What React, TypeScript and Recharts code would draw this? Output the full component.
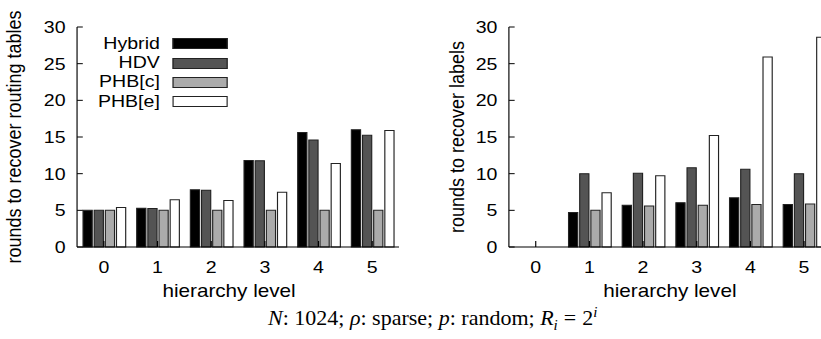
import { Bar, BarChart, Legend, XAxis, YAxis } from "recharts";

const levels = ["0", "1", "2", "3", "4", "5"];
const yTicks = [0, 5, 10, 15, 20, 25, 30];

// left panel: rounds to recover routing tables
const hybridTables = [5.0, 5.3, 7.8, 11.8, 15.6, 16.0];
const hdvTables = [5.0, 5.25, 7.75, 11.75, 14.6, 15.25];
const phbcTables = [5.0, 5.0, 5.0, 5.0, 5.0, 5.0];
const phbeTables = [5.4, 6.45, 6.35, 7.45, 11.4, 15.9];

// right panel: rounds to recover labels
const hybridLabels = [0, 4.7, 5.7, 6.05, 6.7, 5.8];
const hdvLabels = [0, 10.0, 10.05, 10.8, 10.6, 10.0];
const phbcLabels = [0, 5.0, 5.6, 5.7, 5.8, 5.85];
const phbeLabels = [0, 7.4, 9.7, 15.2, 25.9, 28.6];

const seriesNames = ["Hybrid", "HDV", "PHB[c]", "PHB[e]"];
const seriesFill = ["#000000", "#545454", "#ababab", "#ffffff"];

const SANS = '"Liberation Sans", Arial, Helvetica, sans-serif';
const SERIF = '"Liberation Serif", "Times New Roman", serif';

// the original figure is stretched sideways; panels are drawn narrow and widened
const STRETCH = 1.15;

function makeRows(a: number[], b: number[], c: number[], d: number[]) {
  return levels.map((level, i) => ({ level, s0: a[i], s1: b[i], s2: c[i], s3: d[i] }));
}

const tableRows = makeRows(hybridTables, hdvTables, phbcTables, phbeTables);
const labelRows = makeRows(hybridLabels, hdvLabels, phbcLabels, phbeLabels);

function LegendBox({ payload }: any) {
  const items = [...(payload || [])].sort(
    (a: any, b: any) => seriesNames.indexOf(a.value) - seriesNames.indexOf(b.value)
  );
  return (
    <div style={{ fontFamily: SANS, fontSize: 17, color: "#000" }}>
      {items.map((entry: any) => (
        <div key={entry.value} style={{ display: "flex", alignItems: "center", height: 19.4 }}>
          <div style={{ width: 79, textAlign: "right", lineHeight: "18px" }}>{entry.value}</div>
          <div
            style={{
              marginLeft: 11.4,
              width: 48,
              height: 11,
              boxSizing: "border-box",
              border: "1px solid #222",
              background: entry.color,
            }}
          />
        </div>
      ))}
    </div>
  );
}

function Panel({
  rows,
  width,
  yWidth,
  yLabel,
  yLabelDx,
  xLabelDx,
  showLegend,
}: {
  rows: any[];
  width: number;
  yWidth: number;
  yLabel: string;
  yLabelDx: number;
  xLabelDx: number;
  showLegend: boolean;
}) {
  const axisLine = { stroke: "#000", strokeWidth: 1 };
  return (
    <BarChart
      width={width}
      height={339}
      data={rows}
      margin={{ top: 27, right: 10, bottom: 42, left: 0 }}
      barCategoryGap={5.2}
      barGap={1.7}
    >
      <XAxis
        dataKey="level"
        height={50}
        interval={0}
        tickSize={-6}
        tickMargin={20}
        axisLine={axisLine}
        tickLine={axisLine}
        tick={{ fill: "#000", fontSize: 17 }}
        label={{
          value: "hierarchy level",
          position: "insideBottom",
          offset: 0,
          dx: xLabelDx,
          fill: "#000",
          fontSize: 18,
        }}
      />
      <XAxis
        xAxisId="top"
        orientation="top"
        dataKey="level"
        height={0}
        interval={0}
        tickSize={-6}
        tick={false}
        axisLine={axisLine}
        tickLine={axisLine}
      />
      <YAxis
        width={yWidth}
        domain={[0, 30]}
        ticks={yTicks}
        interval={0}
        tickSize={-5}
        tickMargin={15}
        axisLine={axisLine}
        tickLine={axisLine}
        tick={{ fill: "#000", fontSize: 17 }}
        label={{
          value: yLabel,
          angle: -90,
          position: "center",
          dx: yLabelDx,
          fill: "#000",
          fontSize: 18,
        }}
      />
      <YAxis
        yAxisId="r"
        orientation="right"
        width={0}
        domain={[0, 30]}
        ticks={yTicks}
        interval={0}
        tickSize={-5}
        tick={false}
        axisLine={axisLine}
        tickLine={axisLine}
      />
      {showLegend && (
        <Legend
          layout="horizontal"
          verticalAlign="middle"
          align="center"
          wrapperStyle={{ left: 60, top: 34, width: "auto", height: "auto" }}
          content={<LegendBox />}
        />
      )}
      {seriesNames.map((name, i) => (
        <Bar
          key={name}
          dataKey={`s${i}`}
          name={name}
          fill={seriesFill[i]}
          stroke="#222"
          strokeWidth={1}
          isAnimationActive={false}
        />
      ))}
    </BarChart>
  );
}

export default function App() {
  const stretched = { transform: `scaleX(${STRETCH})`, transformOrigin: "0 0" };
  return (
    <div
      style={{
        position: "absolute",
        left: 0,
        top: 0,
        width: 821,
        height: 339,
        overflow: "hidden",
        background: "#fff",
        fontFamily: SANS,
      }}
    >
      <div style={{ position: "absolute", left: 0, top: 0, ...stretched }}>
        <Panel
          rows={tableRows}
          width={357}
          yWidth={67}
          yLabel="rounds to recover routing tables"
          yLabelDx={-21.3}
          xLabelDx={-7.8}
          showLegend
        />
      </div>
      <div style={{ position: "absolute", left: 410, top: 0, ...stretched }}>
        <Panel
          rows={labelRows}
          width={376}
          yWidth={86}
          yLabel="rounds to recover labels"
          yLabelDx={-2}
          xLabelDx={0}
          showLegend={false}
        />
      </div>
      <div
        style={{
          position: "absolute",
          left: 268,
          top: 307,
          fontFamily: SERIF,
          fontSize: 22,
          lineHeight: "22px",
          whiteSpace: "nowrap",
          color: "#000",
        }}
      >
        <i>N</i>: 1024; <i>ρ</i>: sparse; <i>p</i>: random; <i>R</i>
        <sub style={{ fontSize: 15, lineHeight: 0, fontStyle: "italic" }}>i</sub>
        <span style={{ margin: "0 6px" }}>=</span>2
        <sup style={{ fontSize: 15, lineHeight: 0, fontStyle: "italic" }}>i</sup>
      </div>
    </div>
  );
}
